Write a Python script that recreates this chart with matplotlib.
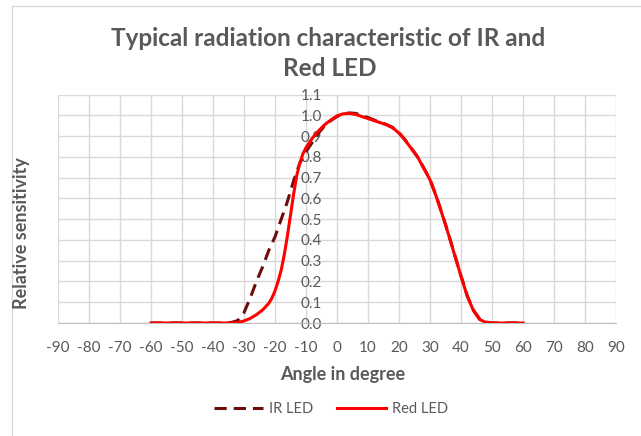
import matplotlib
matplotlib.use("Agg")
import matplotlib.pyplot as plt
from matplotlib.patches import Rectangle

plt.rcParams['font.family'] = ['Lato', 'DejaVu Sans']

# ---- data ----
red_x = [-60, -50, -40, -35, -32, -30, -28, -26, -24, -22, -21, -20, -19, -18, -17, -16, -15, -14, -13, -12, -11, -10,
         -8, -6, -4, -2,
         0, 2, 4, 6, 8, 10, 12, 14, 16, 18, 20, 22, 24, 26, 28, 30, 32, 34, 36, 38, 40, 42, 44, 46, 48, 50, 55, 60]
red_y = [0, 0, 0, 0, 0.002, 0.01, 0.022, 0.04, 0.063, 0.095, 0.12, 0.155, 0.2, 0.255, 0.33, 0.42, 0.52, 0.62, 0.71,
         0.77, 0.815, 0.845,
         0.89, 0.925, 0.955, 0.978,
         0.998, 1.008, 1.01, 1.005, 0.995, 0.985, 0.975, 0.965, 0.955, 0.94, 0.915, 0.88, 0.84, 0.80, 0.745, 0.69, 0.61,
         0.52, 0.425, 0.325, 0.225, 0.13, 0.06, 0.017, 0.003, 0, 0, 0]

ir_x = [-60, -50, -40, -36, -34, -32, -30, -28, -26, -24, -22, -20, -18, -16, -14, -12, -10, -8, -6, -4, -2,
        0, 2, 4, 6, 8, 10, 12, 14, 16, 18, 20, 22, 24, 26, 28, 30, 32, 34, 36, 38, 40, 42, 44, 46, 48, 50, 55, 60]
ir_y = [0, 0, 0, 0, 0.003, 0.012, 0.05, 0.12, 0.2, 0.27, 0.35, 0.415, 0.5, 0.585, 0.685, 0.77, 0.825, 0.87, 0.915, 0.95, 0.975,
        0.995, 1.008, 1.012, 1.01, 1.0, 0.99, 0.978, 0.967, 0.956, 0.942, 0.917, 0.882, 0.842, 0.80, 0.747, 0.692, 0.612,
        0.522, 0.427, 0.327, 0.227, 0.132, 0.062, 0.02, 0.005, 0, 0, 0]

x_ticks = list(range(-90, 91, 10))
y_ticks = [i / 10 for i in range(0, 12)]

title_lines = ["Typical radiation characteristic of IR and", "Red LED"]
xlabel = "Angle in degree"
ylabel = "Relative sensitivity"

GRAY = '#595959'
GRID = '#d9d9d9'

fig = plt.figure(figsize=(6.41, 4.36), dpi=100)

# chart border
fig.patches.append(Rectangle((12 / 641, -0.1), 1.2, (436 - 6) / 436 + 0.1, transform=fig.transFigure,
                             fill=False, edgecolor='#d9d9d9', linewidth=1.0))

ax = fig.add_axes([58 / 641, (436 - 323) / 436, (616 - 58) / 641, (323 - 94.7) / 436])
ax.set_xlim(-90, 90)
ax.set_ylim(0, 1.1)

ax.set_xticks(x_ticks)
ax.set_yticks(y_ticks)
ax.set_xticklabels([str(v) for v in x_ticks])
ax.set_yticklabels([f"{v:.1f}" for v in y_ticks])
ax.grid(True, color=GRID, linewidth=1.0)
ax.set_axisbelow(True)

for s in ['top', 'right']:
    ax.spines[s].set_visible(False)
ax.spines['left'].set_position(('data', 0))
ax.spines['left'].set_color(GRID)
ax.spines['bottom'].set_color('#bfbfbf')
ax.tick_params(axis='both', length=0, colors=GRAY, labelsize=11)
ax.tick_params(axis='x', pad=13)
ax.tick_params(axis='y', pad=11)

ax.plot(ir_x, ir_y, color='#6e0b0b', linewidth=2.2, linestyle=(0, (4, 2.3)), label='IR LED', zorder=3)
ax.plot(red_x, red_y, color='#ff0000', linewidth=2.2, label='Red LED', zorder=4)

fig.text(328 / 641, 1 - 38 / 436, title_lines[0], ha='center', va='center',
         fontsize=17.5, fontweight='bold', color=GRAY)
fig.text(330 / 641, 1 - 69 / 436, title_lines[1], ha='center', va='center',
         fontsize=17.5, fontweight='bold', color=GRAY)
fig.text(343 / 641, 1 - 374 / 436, xlabel, ha='center', va='center', fontsize=13, fontweight='bold', color=GRAY)
fig.text(22 / 641, 1 - 233 / 436, ylabel, ha='center', va='center', rotation=90, fontsize=13,
         fontweight='bold', color=GRAY)

leg = fig.legend(loc='center', bbox_to_anchor=(331 / 641, 1 - 409 / 436), ncol=2, frameon=False,
                 fontsize=10.5, handlelength=3.4, columnspacing=1.6, handletextpad=0.4)
for t in leg.get_texts():
    t.set_color(GRAY)

fig.savefig('out.png', dpi=100)
